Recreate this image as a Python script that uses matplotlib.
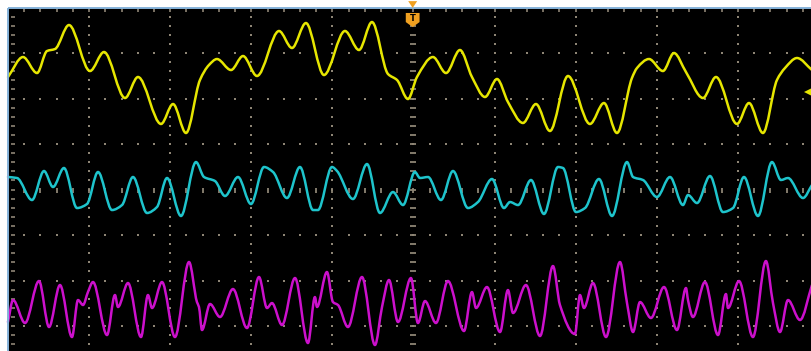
import numpy as np
import matplotlib
matplotlib.use("Agg")
import matplotlib.pyplot as plt
from matplotlib.path import Path
from matplotlib.patches import PathPatch, Polygon, Rectangle

# ---- acquired waveforms (time in divisions, amplitude in divisions from screen centre) ----
ch1_t = [0.00, 0.185, 0.358, 0.481, 0.580, 0.752, 1.011, 1.184, 1.443, 1.603, 1.887, 2.035,
         2.195, 2.367, 2.478, 2.577, 2.750, 2.898, 3.070, 3.342, 3.502, 3.674, 3.896, 4.155,
         4.328, 4.488, 4.686, 4.797, 4.932, 5.043, 5.240, 5.401, 5.573, 5.721, 5.882, 6.030,
         6.165, 6.350, 6.510, 6.683, 6.905, 7.176, 7.349, 7.509, 7.694, 7.756, 7.904, 8.076,
         8.212, 8.360, 8.570, 8.730, 8.989, 9.137, 9.309, 9.482, 9.581, 9.729, 9.914]
ch1_v = [2.473, 2.912, 2.560, 3.044, 3.088, 3.615, 2.604, 3.022, 2.011, 2.473, 1.440, 1.879,
         1.242, 2.407, 2.736, 2.868, 2.626, 2.934, 2.495, 3.484, 3.110, 3.659, 2.516, 3.484,
         3.066, 3.681, 2.538, 2.407, 1.989, 2.473, 2.912, 2.560, 3.066, 2.473, 2.033, 2.429,
         1.923, 1.462, 1.879, 1.286, 2.495, 1.440, 1.901, 1.242, 2.451, 2.670, 2.868, 2.604,
         3.000, 2.582, 2.011, 2.473, 1.440, 1.901, 1.242, 2.407, 2.670, 2.890, 2.626]

ch2_t = [0.00, 0.111, 0.296, 0.444, 0.555, 0.690, 0.851, 0.974, 1.110, 1.282, 1.406, 1.541,
         1.714, 1.837, 1.961, 2.133, 2.318, 2.417, 2.552, 2.676, 2.836, 2.996, 3.157, 3.268,
         3.440, 3.600, 3.761, 3.822, 3.995, 4.057, 4.254, 4.427, 4.587, 4.747, 4.871, 5.018,
         5.080, 5.179, 5.339, 5.487, 5.672, 5.795, 5.968, 6.116, 6.190, 6.289, 6.449, 6.609,
         6.782, 6.843, 7.004, 7.115, 7.287, 7.448, 7.633, 7.707, 7.830, 8.002, 8.163, 8.323,
         8.385, 8.496, 8.656, 8.816, 8.940, 9.075, 9.248, 9.420, 9.531, 9.618, 9.803, 9.914]
ch2_v = [0.275, 0.253, -0.231, 0.407, 0.055, 0.473, -0.407, -0.319, 0.385, -0.451, -0.341, 0.275,
         -0.516, -0.385, 0.253, -0.582, 0.604, 0.275, 0.187, -0.143, 0.275, -0.319, 0.495, 0.385,
         -0.187, 0.495, -0.451, -0.451, 0.495, 0.407, -0.209, 0.560, -0.516, -0.055, -0.341, 0.385,
         0.253, 0.275, -0.231, 0.407, -0.407, -0.275, 0.231, -0.407, -0.275, -0.341, 0.209, -0.538,
         0.495, 0.473, -0.495, -0.407, 0.231, -0.582, 0.604, 0.275, 0.209, -0.165, 0.275, -0.341,
         -0.121, -0.297, 0.297, -0.495, -0.407, 0.275, -0.582, 0.604, 0.209, 0.253, -0.187, 0.099]

ch3_t = [0.00, 0.062, 0.210, 0.382, 0.506, 0.641, 0.789, 0.863, 0.925, 0.986, 1.048, 1.221,
         1.319, 1.356, 1.480, 1.640, 1.726, 1.776, 1.899, 2.059, 2.232, 2.330, 2.355, 2.392,
         2.491, 2.614, 2.774, 2.947, 3.095, 3.194, 3.255, 3.379, 3.539, 3.699, 3.785, 3.810,
         3.933, 4.007, 4.069, 4.192, 4.365, 4.525, 4.612, 4.698, 4.809, 4.969, 5.055, 5.142,
         5.277, 5.425, 5.623, 5.721, 5.771, 5.906, 6.067, 6.165, 6.227, 6.387, 6.560, 6.720,
         6.806, 6.991, 7.053, 7.102, 7.213, 7.374, 7.546, 7.633, 7.707, 7.793, 7.928, 8.089,
         8.249, 8.360, 8.385, 8.446, 8.594, 8.755, 8.853, 8.878, 9.014, 9.186, 9.346, 9.433,
         9.519, 9.618, 9.766, 9.914]
ch3_v = [-2.912, -2.429, -2.934, -2.011, -3.022, -2.099, -3.242, -2.429, -2.538, -2.253, -2.033, -3.198,
         -2.319, -2.582, -2.055, -3.242, -2.319, -2.604, -2.033, -3.242, -1.593, -2.473, -2.582, -3.088,
         -2.516, -2.802, -2.187, -3.044, -1.923, -2.604, -2.495, -2.978, -1.945, -3.374, -2.363, -2.582,
         -1.813, -2.473, -2.538, -3.022, -1.923, -3.418, -2.582, -1.989, -2.912, -1.945, -2.934, -2.451,
         -2.934, -2.011, -3.110, -2.253, -2.604, -2.143, -3.132, -2.209, -2.714, -2.099, -3.220, -1.681,
         -2.538, -3.176, -2.319, -2.604, -2.055, -3.242, -1.593, -2.495, -3.132, -2.473, -2.824, -2.143,
         -3.088, -2.165, -2.429, -2.802, -2.033, -3.198, -2.297, -2.604, -2.011, -3.242, -1.571, -2.495,
         -3.132, -2.429, -2.868, -2.099]

trigger_time = 4.99      # trigger position marker (divisions)
ch1_level = 2.14         # CH1 trigger level marker (divisions)

CH1_COLOR = "#e6e600"
CH2_COLOR = "#1ec4cc"
CH3_COLOR = "#cc10cc"
GRID_COLOR = "#8e8575"
BORDER_COLOR = "#86b3da"
TRIG_COLOR = "#f0a020"


def smooth_path(t, v):
    """Monotone cubic (Fritsch-Carlson) Bezier path through the samples."""
    t = np.asarray(t, float)
    v = np.asarray(v, float)
    h = np.diff(t)
    d = np.diff(v) / h
    m = np.zeros_like(v)
    m[0], m[-1] = d[0], d[-1]
    for i in range(1, len(v) - 1):
        if d[i - 1] * d[i] <= 0:
            m[i] = 0.0
        else:
            w1 = 2 * h[i] + h[i - 1]
            w2 = h[i] + 2 * h[i - 1]
            m[i] = (w1 + w2) / (w1 / d[i - 1] + w2 / d[i])
    verts = [(t[0], v[0])]
    codes = [Path.MOVETO]
    for i in range(len(h)):
        verts += [(t[i] + h[i] / 3, v[i] + m[i] * h[i] / 3),
                  (t[i + 1] - h[i] / 3, v[i + 1] - m[i + 1] * h[i] / 3),
                  (t[i + 1], v[i + 1])]
        codes += [Path.CURVE4] * 3
    return Path(verts, codes)


fig = plt.figure(figsize=(8.12, 3.51), dpi=100, facecolor="white")
ax = fig.add_axes([0, 0, 1, 1])
ax.set_xlim(-0.0986, 9.914)
ax.set_ylim(-3.549, 4.165)
ax.axis("off")

# screen background
ax.add_patch(Rectangle((0, -4.5), 10.5, 8.5, facecolor="black", edgecolor="none", zorder=0))

# graticule: dotted division lines
minor = np.arange(-25, 51) * 0.2
for xd in range(1, 10):
    if xd == 5:
        continue
    ys = minor[(minor > -4) & (minor < 4)]
    ax.scatter(np.full_like(ys, xd), ys, s=2.2, marker="s", color=GRID_COLOR, linewidths=0, zorder=1)
for yd in (-3, -2, -1, 1, 2, 3):
    xs = minor[(minor > 0) & (minor < 10)]
    ax.scatter(xs, np.full_like(xs, yd), s=2.2, marker="s", color=GRID_COLOR, linewidths=0, zorder=1)

# centre axes with minor ticks
xs = minor[(minor > 0) & (minor < 10)]
ax.plot(xs, np.zeros_like(xs), linestyle="none", marker="|", markersize=3.6,
        markeredgewidth=1.3, color=GRID_COLOR, zorder=1)
ys = minor[(minor > -4) & (minor < 4)]
ax.plot(np.full_like(ys, 5.0), ys, linestyle="none", marker="_", markersize=3.8,
        markeredgewidth=1.3, color=GRID_COLOR, zorder=1)

# ticks along the screen edges
ax.plot(xs, np.full_like(xs, 3.95), linestyle="none", marker="|", markersize=2.4,
        markeredgewidth=1.2, color=GRID_COLOR, zorder=1)
ax.plot(np.full_like(ys, 0.06), ys, linestyle="none", marker="_", markersize=3.0,
        markeredgewidth=1.2, color=GRID_COLOR, zorder=1)

# screen border
ax.plot([0, 10.5], [4.0, 4.0], color=BORDER_COLOR, lw=1.4, zorder=5, solid_capstyle="butt")
ax.plot([0, 0], [-4.5, 4.0], color=BORDER_COLOR, lw=1.4, zorder=5, solid_capstyle="butt")

# waveforms
for t, v, c in ((ch1_t, ch1_v, CH1_COLOR), (ch2_t, ch2_v, CH2_COLOR), (ch3_t, ch3_v, CH3_COLOR)):
    ax.add_patch(PathPatch(smooth_path(t, v), facecolor="none", edgecolor=c,
                           lw=1.8, capstyle="round", joinstyle="round", zorder=3))

# trigger position marker
dx = 0.055
ax.add_patch(Polygon([(trigger_time - dx, 4.14), (trigger_time + dx, 4.14), (trigger_time, 3.99)],
                     closed=True, facecolor=TRIG_COLOR, edgecolor="none", zorder=6))
px = 0.085
ax.add_patch(Polygon([(trigger_time - px, 3.88), (trigger_time + px, 3.88), (trigger_time + px, 3.68),
                      (trigger_time, 3.57), (trigger_time - px, 3.68)],
                     closed=True, facecolor=TRIG_COLOR, edgecolor="none", zorder=6))
ax.text(trigger_time, 3.75, "T", color="black", fontsize=6, fontweight="bold",
        ha="center", va="center", zorder=7, family="DejaVu Sans")

# CH1 trigger level marker on the right edge
ax.plot([9.87], [ch1_level], marker="<", markersize=6, color=CH1_COLOR,
        markeredgewidth=0, zorder=6)

fig.savefig("out.png", dpi=100, facecolor="white")
